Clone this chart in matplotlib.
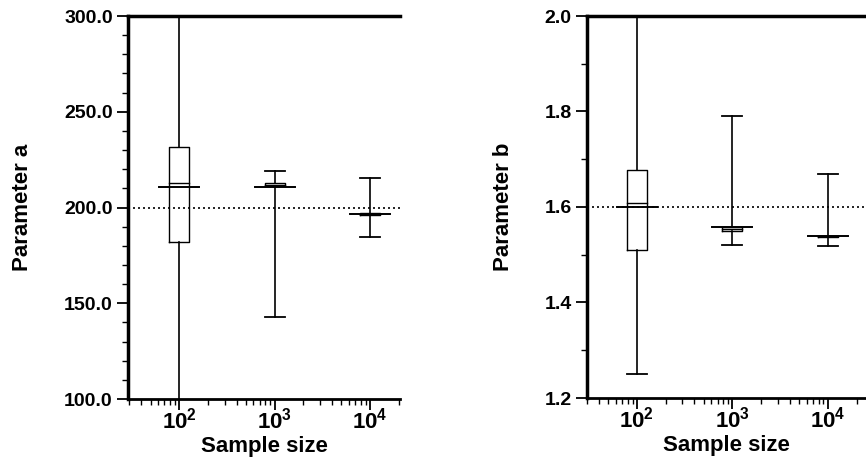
import numpy as np
import matplotlib
matplotlib.use('Agg')
import matplotlib.pyplot as plt
from matplotlib.ticker import FixedLocator, LogLocator, FormatStrFormatter, MultipleLocator, NullFormatter

plt.rcParams['font.family'] = ['Liberation Sans', 'DejaVu Sans']
plt.rcParams['font.weight'] = 'bold'
plt.rcParams['mathtext.fontset'] = 'custom'
plt.rcParams['mathtext.rm'] = 'Liberation Sans:bold'
plt.rcParams['mathtext.bf'] = 'Liberation Sans:bold'
plt.rcParams['mathtext.it'] = 'Liberation Sans:bold'

sizes = [100, 1000, 10000]
xtick_labels = [r'$\mathregular{10^{2}}$', r'$\mathregular{10^{3}}$', r'$\mathregular{10^{4}}$']

# parameter a: whisker ends, quartile box, median, mean
a_low = [90.0, 143.0, 184.5]
a_q1 = [181.8, 211.2, 196.1]
a_med = [212.6, 211.8, 196.8]
a_q3 = [231.6, 212.6, 197.3]
a_high = [310.0, 219.1, 215.3]
a_mean = [210.5, 210.5, 196.7]
a_true = 200.0

# parameter b
b_low = [1.250, 1.521, 1.519]
b_q1 = [1.510, 1.550, 1.538]
b_med = [1.609, 1.553, 1.539]
b_q3 = [1.678, 1.559, 1.540]
b_high = [2.050, 1.790, 1.669]
b_mean = [1.600, 1.559, 1.539]
b_true = 1.6

half_box = 0.105   # in decades
half_mean = 0.21


def draw(ax, low, q1, med, q3, high, mean, true, ylim, major, minor, fmt, xlim, ylabel):
    ax.set_xscale('log')
    ax.axhline(true, color='black', lw=1.2, ls=(0, (1.2, 1.8)), zorder=1)
    for x, lo, b1, m, b3, hi, mu in zip(sizes, low, q1, med, q3, high, mean):
        xl, xr = x * 10 ** -half_box, x * 10 ** half_box
        ml, mr = x * 10 ** -half_mean, x * 10 ** half_mean
        ax.plot([x, x], [lo, b1], color='black', lw=1.2)
        ax.plot([x, x], [b3, hi], color='black', lw=1.2)
        ax.plot([xl, xr], [lo, lo], color='black', lw=1.3)
        ax.plot([xl, xr], [hi, hi], color='black', lw=1.3)
        ax.plot([xl, xr, xr, xl, xl], [b1, b1, b3, b3, b1], color='black', lw=1.0)
        ax.plot([xl, xr], [m, m], color='black', lw=1.0)
        ax.plot([ml, mr], [mu, mu], color='black', lw=1.4)
    ax.set_xlim(*xlim)
    ax.set_ylim(*ylim)
    ax.xaxis.set_major_locator(FixedLocator(sizes))
    ax.set_xticks(sizes, xtick_labels)
    ax.xaxis.set_minor_locator(LogLocator(base=10, subs=np.arange(2, 10)))
    ax.xaxis.set_minor_formatter(NullFormatter())
    ax.yaxis.set_major_locator(MultipleLocator(major))
    ax.yaxis.set_minor_locator(MultipleLocator(minor))
    ax.yaxis.set_major_formatter(FormatStrFormatter(fmt))
    ax.tick_params(which='major', direction='out', length=8, width=1.3, labelsize=14, pad=3)
    ax.tick_params(which='minor', direction='out', length=4, width=1.0)
    ax.tick_params(axis='x', which='major', labelsize=16, pad=-2)
    ax.spines['right'].set_visible(False)
    for s in ('left', 'top'):
        ax.spines[s].set_linewidth(2.5)
    ax.spines['bottom'].set_linewidth(2.0)
    ax.set_xlabel('Sample size', fontsize=16, fontweight='bold', labelpad=2)
    ax.set_ylabel(ylabel, fontsize=16, fontweight='bold', labelpad=22)


fig = plt.figure(figsize=(8.66, 4.65), dpi=100)
ax1 = fig.add_axes([128 / 866, 1 - 399 / 465, (400 - 128) / 866, (399 - 16) / 465])
ax2 = fig.add_axes([587 / 866, 1 - 398 / 465, (866 - 587) / 866, (398 - 16) / 465])

draw(ax1, a_low, a_q1, a_med, a_q3, a_high, a_mean, a_true, (100, 300), 50, 10, '%.1f',
     (29, 20650), 'Parameter a')
draw(ax2, b_low, b_q1, b_med, b_q3, b_high, b_mean, b_true, (1.2, 2.0), 0.2, 0.1, '%.1f',
     (30, 25100), 'Parameter b')

fig.savefig('out.png', dpi=100)
